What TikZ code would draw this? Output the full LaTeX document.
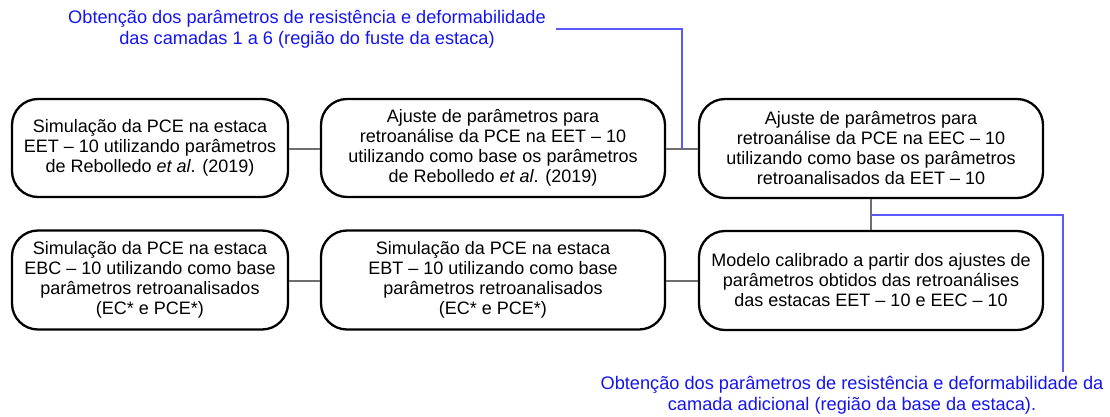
\documentclass[tikz,border=0pt]{standalone}
\usepackage{fontspec}
\setmainfont{Liberation Sans}
\definecolor{bluetxt}{RGB}{20,20,240}
\definecolor{blueline}{RGB}{90,90,255}
\definecolor{conn}{RGB}{110,110,110}
\tikzset{
  stepbox/.style={draw=black, line width=2.3pt, rounded corners=26pt, align=center,
    inner sep=0pt, font=\fontsize{18}{20}\selectfont},
  wide/.style={minimum width=344pt},
  narrow/.style={minimum width=276pt},
  link/.style={draw=conn, line width=1.6pt},
  note/.style={text=bluetxt, align=center, inner sep=0pt, font=\fontsize{18.2}{21}\selectfont},
  noteline/.style={draw=blueline, line width=1.1pt},
}
\begin{document}
\begin{tikzpicture}[x=1pt,y=-1pt]
\useasboundingbox (0,0) rectangle (1110,416);
% top row
\node[stepbox, narrow, minimum height=98pt] (b1) at (150,148)
  {Simulação da PCE na estaca\\EET – 10 utilizando parâmetros\\de Rebolledo \textit{et al}. (2019)};
\node[stepbox, wide, minimum height=98pt] (b2) at (493,148)
  {Ajuste de parâmetros para\\retroanálise da PCE na EET – 10\\utilizando como base os parâmetros\\de Rebolledo \textit{et al}. (2019)};
\node[stepbox, wide, minimum height=99pt] (b3) at (871,148.5)
  {Ajuste de parâmetros para\\retroanálise da PCE na EEC – 10\\utilizando como base os parâmetros\\retroanalisados da EET – 10};
% bottom row
\node[stepbox, narrow, minimum height=99pt] (b4) at (150,280)
  {Simulação da PCE na estaca\\EBC – 10 utilizando como base\\parâmetros retroanalisados\\(EC* e PCE*)};
\node[stepbox, wide, minimum height=99pt] (b5) at (493,280)
  {Simulação da PCE na estaca\\EBT – 10 utilizando como base\\parâmetros retroanalisados\\(EC* e PCE*)};
\node[stepbox, wide, minimum height=99pt] (b6) at (871,280.5)
  {Modelo calibrado a partir dos ajustes de\\parâmetros obtidos das retroanálises\\das estacas EET – 10 e EEC – 10};
% connectors
\draw[link] (b1.east |- 0,149) -- (b2.west |- 0,149);
\draw[link] (b2.east |- 0,149) -- (b3.west |- 0,149);
\draw[link] (b4.east |- 0,281) -- (b5.west |- 0,281);
\draw[link] (b5.east |- 0,281) -- (b6.west |- 0,281);
\draw[link] (b3.south) -- (b6.north);
% notes
\node[note] (t1) at (307,29)
  {Obtenção dos parâmetros de resistência e deformabilidade\\das camadas 1 a 6 (região do fuste da estaca)};
\node[note] (t2) at (852,395)
  {Obtenção dos parâmetros de resistência e deformabilidade da\\camada adicional (região da base da estaca).};
\coordinate (j1) at (682,149);
\coordinate (j2) at (871,215);
\coordinate (e2) at (1063,372);
\draw[noteline] ([xshift=10pt]t1.east) -| (j1);
\draw[noteline] (j2) -| (e2);
\end{tikzpicture}
\end{document}
